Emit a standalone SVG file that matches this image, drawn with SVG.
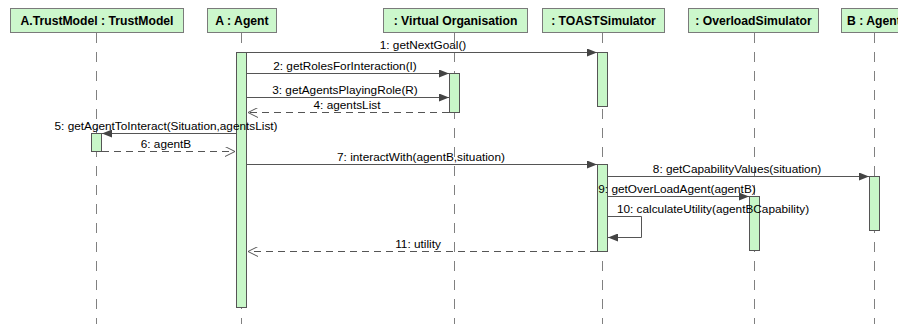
<svg xmlns="http://www.w3.org/2000/svg" width="898" height="324" viewBox="0 0 898 324">
<style>
.hdr{fill:#ccf7cc;stroke:#7a7a7a;stroke-width:1}
.ht{font-family:"Liberation Sans",Arial,sans-serif;font-weight:bold;font-size:12.2px;fill:#000;text-anchor:middle}
.life{stroke:#808080;stroke-width:1;stroke-dasharray:10,9;fill:none}
.act{fill:#c8f7c8;stroke:#555;stroke-width:1}
.msg{stroke:#555;stroke-width:1;fill:none}
.ret{stroke:#555;stroke-width:1;fill:none;stroke-dasharray:7,5}
.lbl{font-family:"Liberation Sans",Arial,sans-serif;font-size:11.8px;fill:#000;text-anchor:middle}
</style>
<defs>
<marker id="fa" markerWidth="10" markerHeight="8" refX="10" refY="4" orient="auto" markerUnits="userSpaceOnUse">
<path d="M0,0 L10,4 L0,8 Z" fill="#444"/>
</marker>
<marker id="oa" markerWidth="10" markerHeight="10" refX="10" refY="5" orient="auto" markerUnits="userSpaceOnUse">
<path d="M0,0 L10,5 L0,10" fill="none" stroke="#555" stroke-width="1"/>
</marker>
</defs>
<rect width="898" height="324" fill="#fff"/>

<g id="trustmodel">
<rect class="hdr" x="10.5" y="8.5" width="173" height="24"/>
<text class="ht" x="97" y="24.5">A.TrustModel : TrustModel</text>
<line class="life" x1="96.5" y1="33" x2="96.5" y2="324"/>
<rect class="act" x="91.5" y="133.5" width="10" height="18"/>
</g>
<g id="agentA">
<rect class="hdr" x="207.5" y="8.5" width="69" height="24"/>
<text class="ht" x="242" y="24.5">A : Agent</text>
<line class="life" x1="241.5" y1="33" x2="241.5" y2="324"/>
<rect class="act" x="236.5" y="52.5" width="10" height="255"/>
</g>
<g id="vo">
<rect class="hdr" x="383.5" y="8.5" width="144" height="24"/>
<text class="ht" x="455.5" y="24.5">: Virtual Organisation</text>
<line class="life" x1="454.5" y1="33" x2="454.5" y2="324"/>
<rect class="act" x="449.5" y="73.5" width="10" height="39"/>
</g>
<g id="toast">
<rect class="hdr" x="542.5" y="8.5" width="122" height="24"/>
<text class="ht" x="603.5" y="24.5">: TOASTSimulator</text>
<line class="life" x1="602.5" y1="33" x2="602.5" y2="324"/>
<rect class="act" x="597.5" y="52.5" width="10" height="54"/>
<rect class="act" x="597.5" y="164.5" width="10" height="87"/>
</g>
<g id="overload">
<rect class="hdr" x="688.5" y="8.5" width="130" height="24"/>
<text class="ht" x="753.5" y="24.5">: OverloadSimulator</text>
<line class="life" x1="754.5" y1="33" x2="754.5" y2="324"/>
<rect class="act" x="749.5" y="196.5" width="10" height="54"/>
</g>
<g id="agentB">
<rect class="hdr" x="841.5" y="8.5" width="80" height="24"/>
<text class="ht" x="847" y="24.5" style="text-anchor:start">B : Agent</text>
<line class="life" x1="874.5" y1="33" x2="874.5" y2="324"/>
<rect class="act" x="869.5" y="176.5" width="10" height="54"/>
</g>

<g id="connectors">
<line class="msg" x1="247" y1="52.5" x2="597" y2="52.5" marker-end="url(#fa)"/>
<text class="lbl" x="423" y="48.5">1: getNextGoal()</text>
<line class="msg" x1="247" y1="73.5" x2="449" y2="73.5" marker-end="url(#fa)"/>
<text class="lbl" x="345" y="69.5">2: getRolesForInteraction(I)</text>
<line class="msg" x1="247" y1="97.5" x2="449" y2="97.5" marker-end="url(#fa)"/>
<text class="lbl" x="345" y="93.5">3: getAgentsPlayingRole(R)</text>
<line class="ret" x1="449" y1="112.5" x2="248" y2="112.5" marker-end="url(#oa)"/>
<text class="lbl" x="347" y="108.5">4: agentsList</text>
<line class="msg" x1="236" y1="133.5" x2="102" y2="133.5" marker-end="url(#fa)"/>
<text class="lbl" x="166" y="129.5">5: getAgentToInteract(Situation,agentsList)</text>
<line class="ret" x1="102" y1="151.5" x2="235" y2="151.5" marker-end="url(#oa)"/>
<text class="lbl" x="166" y="147.5">6: agentB</text>
<line class="msg" x1="247" y1="164.5" x2="597" y2="164.5" marker-end="url(#fa)"/>
<text class="lbl" x="421" y="160.5">7: interactWith(agentB,situation)</text>
<line class="msg" x1="608" y1="176.5" x2="869" y2="176.5" marker-end="url(#fa)"/>
<text class="lbl" x="737" y="172.5">8: getCapabilityValues(situation)</text>
<line class="msg" x1="608" y1="196.5" x2="749" y2="196.5" marker-end="url(#fa)"/>
<text class="lbl" x="677" y="192.5">9: getOverLoadAgent(agentB)</text>
<polyline class="msg" points="608,216.5 641.5,216.5 641.5,237.5 608,237.5" marker-end="url(#fa)"/>
<text class="lbl" x="713" y="212.5">10: calculateUtility(agentBCapability)</text>
<line class="ret" x1="597" y1="251.5" x2="248" y2="251.5" marker-end="url(#oa)"/>
<text class="lbl" x="418" y="247.5">11: utility</text>
</g>
</svg>
